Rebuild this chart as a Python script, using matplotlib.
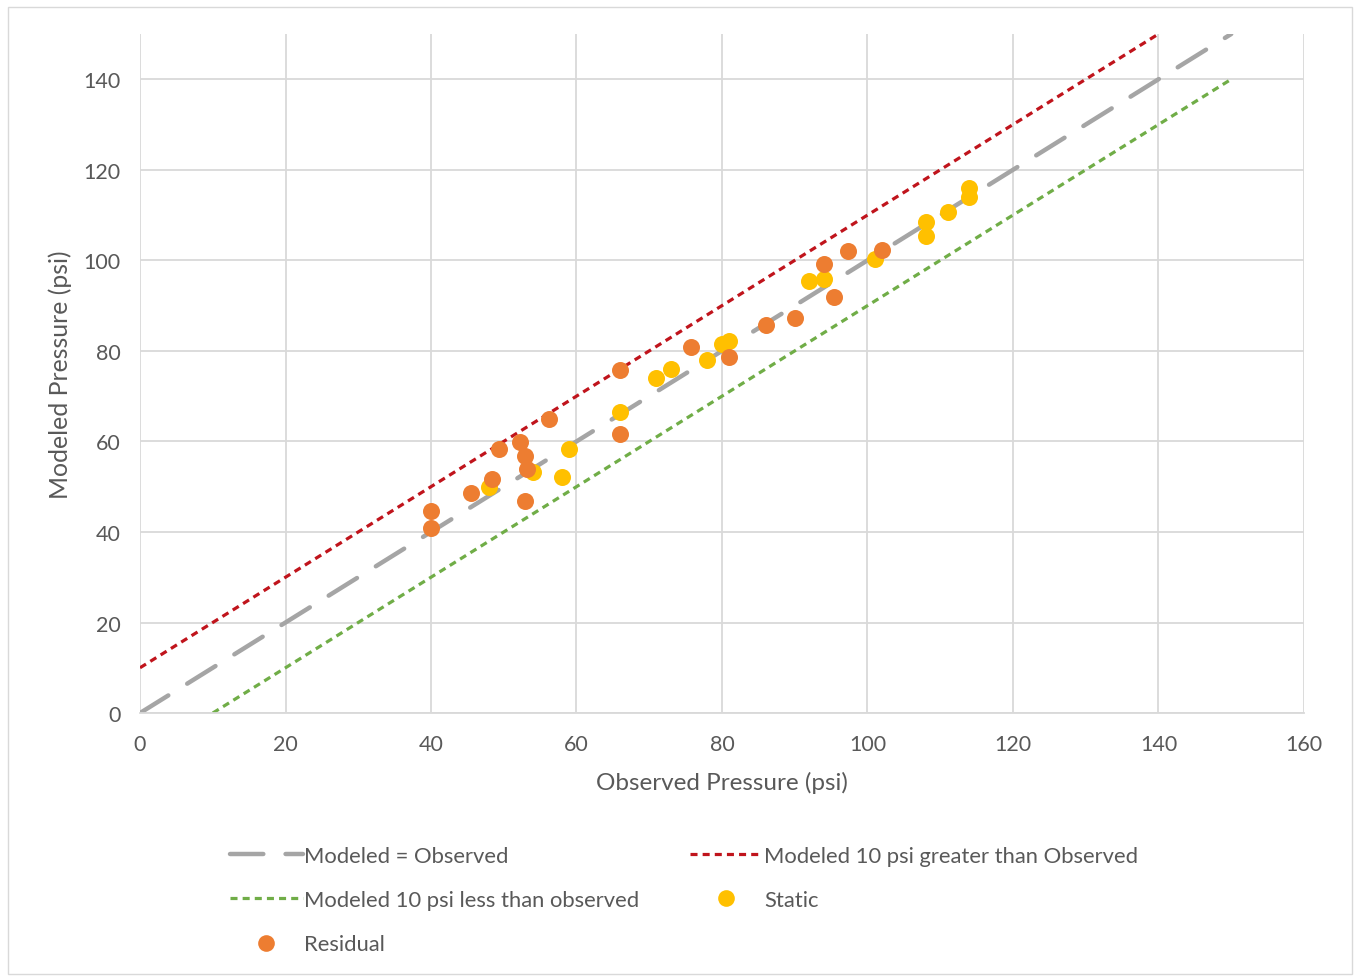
import numpy as np
import matplotlib
matplotlib.use("Agg")
import matplotlib.pyplot as plt
from matplotlib.patches import Rectangle
from matplotlib.lines import Line2D

plt.rcParams["font.family"] = ["Lato", "DejaVu Sans"]
TXT = "#595959"

# reference lines
line_x = [0, 150]
eq_y = [0, 150]
greater_x = [0, 140]
greater_y = [10, 150]
less_x = [10, 150]
less_y = [0, 140]

# observed / modeled pressures
static_obs = [48.0, 54.0, 58.0, 59.0, 66.0, 70.9, 73.0, 77.9, 80.0, 81.0,
              92.0, 94.0, 101.0, 108.0, 108.0, 111.1, 114.0, 114.0]
static_mod = [49.9, 53.2, 52.1, 58.3, 66.5, 74.0, 76.0, 77.9, 81.5, 82.1,
              95.4, 95.8, 100.2, 105.3, 108.4, 110.6, 113.9, 115.9]
resid_obs = [40.0, 40.0, 45.5, 48.4, 49.3, 52.2, 52.9, 53.2, 52.9, 56.2,
             66.0, 66.0, 75.7, 81.0, 86.0, 90.0, 94.0, 95.4, 97.3, 102.0]
resid_mod = [44.6, 40.8, 48.6, 51.7, 58.3, 59.8, 56.7, 53.9, 46.8, 64.9,
             75.7, 61.6, 80.8, 78.6, 85.7, 87.2, 99.1, 91.9, 102.0, 102.2]

xticks = list(range(0, 161, 20))
yticks = list(range(0, 141, 20))

fig = plt.figure(figsize=(13.58, 9.78), dpi=100)
ax = fig.add_axes([0.1031, 0.2699, 0.8571, 0.6943])

l_eq, = ax.plot(line_x, eq_y, color="#A5A5A5", lw=3.2, dashes=(7.5, 5),
                dash_capstyle="round", zorder=2)
l_gt, = ax.plot(greater_x, greater_y, color="#C0141C", lw=2.3, dashes=(2.2, 1.6),
                zorder=2)
l_lt, = ax.plot(less_x, less_y, color="#70AD47", lw=2.3, dashes=(2.2, 1.6),
                zorder=2)
s_st = ax.scatter(static_obs, static_mod, s=150, color="#FFC000", zorder=3,
                  linewidths=0)
s_rs = ax.scatter(resid_obs, resid_mod, s=150, color="#ED7D31", zorder=4,
                  linewidths=0)

ax.set_xlim(0, 160)
ax.set_ylim(0, 150)
ax.set_xticks(xticks)
ax.set_yticks(yticks)
ax.grid(True, color="#D9D9D9", lw=1.3)
ax.set_axisbelow(True)
for side in ["top", "right", "left"]:
    ax.spines[side].set_visible(False)
ax.spines["bottom"].set_color("#D9D9D9")
ax.spines["bottom"].set_linewidth(1.3)
ax.tick_params(length=0, labelsize=15.5, labelcolor=TXT)
ax.tick_params(axis="x", pad=15)
ax.tick_params(axis="y", pad=14)
ax.set_xlabel("Observed Pressure (psi)", fontsize=17.5, color=TXT, labelpad=12)
ax.set_ylabel("Modeled Pressure (psi)", fontsize=17.8, color=TXT, labelpad=8)

h_st = Line2D([], [], ls="none", marker="o", ms=12, color="#FFC000", mew=0)
h_rs = Line2D([], [], ls="none", marker="o", ms=12, color="#ED7D31", mew=0)
handles = [l_eq, l_lt, h_rs, l_gt, h_st]
labels = ["Modeled = Observed", "Modeled 10 psi less than observed", "Residual",
          "Modeled 10 psi greater than Observed", "Static"]
leg = fig.legend(handles, labels, ncol=2, loc="upper left",
                 bbox_to_anchor=(0.163, 0.143), frameon=False,
                 fontsize=15.8, labelcolor=TXT, handlelength=3.3,
                 handletextpad=0.08, columnspacing=2.3, labelspacing=1.1,
                 borderaxespad=0)

fig.patches.append(Rectangle((8 / 1358, 3 / 978), 1344 / 1358, 967 / 978,
                             transform=fig.transFigure, fill=False,
                             edgecolor="#D9D9D9", lw=1.0))

fig.savefig("out.png", dpi=100)
